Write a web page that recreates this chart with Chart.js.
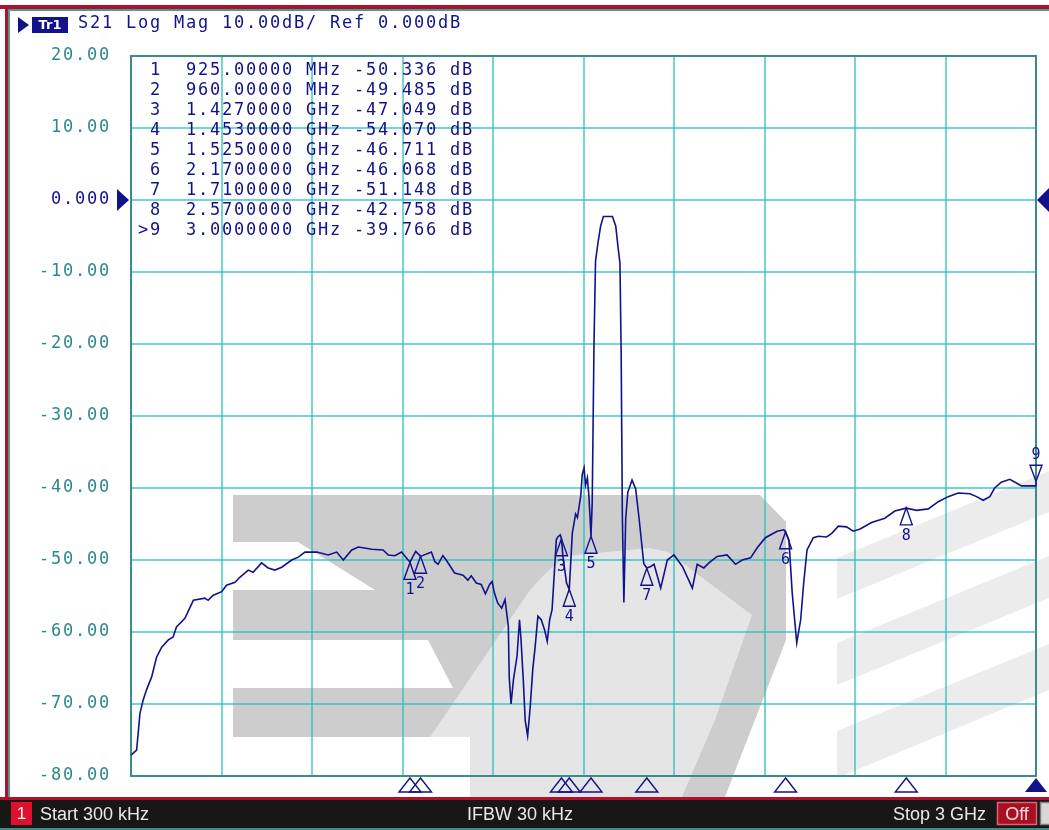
<!DOCTYPE html>
<html>
<head>
<meta charset="utf-8">
<script src="https://cdn.jsdelivr.net/npm/chart.js@4.4.1/dist/chart.umd.min.js"></script>
<style>
  html, body { margin: 0; padding: 0; background: #fff; overflow: hidden; }
  #wrap { position: relative; width: 1049px; height: 830px; }
</style>
</head>
<body>
<div id="wrap"><canvas id="vna" width="1049" height="830"></canvas></div>
<script>
// S21 trace (frequency in MHz, level in dB)
const freqMHz = [
  0.3, 19, 30, 41, 52, 69, 85, 102, 124, 140, 151, 179, 207, 245, 256, 273,
  301, 317, 345, 361, 389, 405, 433, 455, 477, 500, 533, 555, 577, 616, 654, 682,
  704, 732, 754, 798, 836, 853, 875, 897, 925, 944, 960, 996, 1007, 1018, 1034, 1045,
  1073, 1101, 1117, 1128, 1145, 1161, 1175, 1189, 1197, 1205, 1216, 1229, 1240, 1251,
  1254, 1260, 1268, 1280, 1288, 1293, 1301, 1307, 1315, 1323, 1332, 1340, 1349, 1360,
  1371, 1380, 1388, 1396, 1404, 1410, 1415, 1423, 1427, 1432, 1444, 1453, 1463, 1474,
  1480, 1491, 1496, 1502, 1507, 1513, 1518, 1525, 1529, 1535, 1540, 1548, 1557, 1566,
  1596, 1607, 1614, 1621, 1625, 1629, 1634, 1640, 1647, 1661, 1673, 1684, 1700, 1710,
  1723, 1734, 1756, 1778, 1800, 1828, 1861, 1877, 1899, 1916, 1943, 1976, 2004, 2026,
  2054, 2076, 2103, 2142, 2164, 2170, 2181, 2192, 2207, 2220, 2230, 2241, 2262, 2279,
  2306, 2323, 2345, 2372, 2394, 2417, 2455, 2499, 2532, 2570, 2604, 2643, 2676, 2709,
  2742, 2781, 2803, 2825, 2847, 2863, 2885, 2913, 2935, 2952, 2996, 3000
];
const s21dB = [
  -77.1, -76.4, -71.3, -69.4, -68.0, -66.2, -63.5, -62.1, -61.1, -60.7, -59.3, -58.1, -55.6, -55.3, -55.6, -54.9,
  -54.4, -53.5, -53.1, -52.4, -51.4, -51.7, -50.4, -51.1, -51.4, -51.0, -50.0, -49.6, -48.9, -48.9, -49.3, -48.9,
  -50.0, -48.6, -48.2, -48.5, -48.6, -49.3, -49.4, -48.9, -50.3, -48.8, -49.5, -48.9, -50.2, -50.6, -49.4, -50.0,
  -51.8, -52.1, -52.8, -52.2, -53.2, -53.4, -54.7, -53.4, -53.0, -54.6, -56.0, -56.7, -55.5, -59.2,
  -66.3, -70.0, -66.6, -63.3, -58.3, -61.0, -67.0, -72.3, -74.4, -70.7, -65.2, -62.0, -57.8, -58.3,
  -59.7, -61.3, -58.3, -56.9, -51.4, -47.2, -46.8, -46.5, -47.0, -49.5, -53.2, -54.1, -46.3, -43.6,
  -44.1, -41.1, -38.1, -37.2, -39.6, -38.6, -41.1, -46.7, -42.1, -19.9, -8.5, -6.0, -3.6, -2.3,
  -2.3, -3.6, -6.3, -8.8, -21.4, -44.1, -55.9, -44.3, -40.6, -38.9, -40.1, -44.1, -50.5, -51.1,
  -50.9, -50.6, -53.9, -50.0, -49.3, -50.9, -53.9, -50.6, -51.1, -50.4, -49.5, -49.3, -50.6, -50.0,
  -49.7, -48.3, -46.9, -46.0, -45.8, -46.1, -47.2, -54.6, -61.5, -58.3, -53.2, -48.6, -46.9, -46.7,
  -46.8, -46.3, -45.3, -45.4, -46.0, -45.7, -44.8, -44.2, -43.2, -42.8, -43.1, -42.9, -41.9, -41.2,
  -40.7, -40.8, -41.2, -41.7, -41.2, -40.0, -39.2, -38.8, -39.3, -39.7, -39.7, -39.8
];

// markers as listed in the on-screen table
const markerIds = ['1', '2', '3', '4', '5', '6', '7', '8', '9'];
const markerMHz = [925, 960, 1427, 1453, 1525, 2170, 1710, 2570, 3000];
const markerDB = [-50.336, -49.485, -47.049, -54.070, -46.711, -46.068, -51.148, -42.758, -39.766];
const activeMarker = 8;

const headerText = 'S21 Log Mag 10.00dB/ Ref 0.000dB';
const traceName = 'Tr1';
const startText = 'Start 300 kHz';
const ifbwText = 'IFBW 30 kHz';
const stopText = 'Stop 3 GHz';

const NAVY = '#12128c';
const TEAL = '#2b8a84';
const MONO = '17px "DejaVu Sans Mono", monospace';
const PITCH = 12;

function drawMono(ctx, text, x0, y, pitch) {
  ctx.textAlign = 'center';
  ctx.textBaseline = 'middle';
  for (let i = 0; i < text.length; i++) {
    if (text[i] !== ' ') ctx.fillText(text[i], x0 + i * pitch + pitch / 2, y);
  }
}

function poly(ctx, pts, color) {
  ctx.beginPath();
  ctx.moveTo(pts[0][0], pts[0][1]);
  for (let i = 1; i < pts.length; i++) ctx.lineTo(pts[i][0], pts[i][1]);
  ctx.closePath();
  ctx.fillStyle = color;
  ctx.fill();
}

function fmtFreq(f) {
  return f < 1000 ? f.toFixed(5) + ' MHz' : (f / 1000).toFixed(7) + ' GHz';
}

// background + faded logo watermark behind the grid
const backdrop = {
  id: 'backdrop',
  beforeDraw(chart) {
    const ctx = chart.ctx;
    ctx.save();
    ctx.fillStyle = '#fff';
    ctx.fillRect(0, 0, chart.width, chart.height);

    poly(ctx, [[233, 495], [760, 495], [786, 522], [786, 640], [725, 797], [470, 797], [470, 737], [233, 737]], '#cdcdcd');
    poly(ctx, [[233, 542], [298, 542], [375, 590], [233, 590]], '#fff');
    poly(ctx, [[233, 640], [428, 640], [453, 688], [233, 688]], '#fff');
    poly(ctx, [[430, 737], [530, 590], [545, 574], [565, 556], [650, 548], [668, 552], [752, 615], [715, 720], [682, 797], [470, 797], [470, 737]], '#e5e5e5');

    poly(ctx, [[837, 558], [1049, 471], [1049, 512], [837, 599]], '#ececec');
    poly(ctx, [[837, 643], [1049, 556], [1049, 598], [837, 685]], '#ececec');
    poly(ctx, [[837, 731], [1049, 644], [1049, 690], [837, 778]], '#ececec');
    ctx.restore();
  },
  beforeDatasetsDraw(chart) {
    const { ctx, chartArea: a } = chart;
    ctx.save();
    ctx.strokeStyle = '#3c8c8a';
    ctx.lineWidth = 2;
    ctx.strokeRect(a.left, a.top, a.right - a.left, a.bottom - a.top);
    ctx.restore();
  }
};

const markers = {
  id: 'markers',
  afterDatasetsDraw(chart) {
    const { ctx, chartArea: a } = chart;
    const xs = chart.scales.x, ys = chart.scales.y;
    ctx.save();
    ctx.strokeStyle = NAVY;
    ctx.fillStyle = NAVY;
    ctx.lineWidth = 1.4;
    ctx.font = '15px "DejaVu Sans Mono", monospace';
    ctx.textAlign = 'center';
    ctx.textBaseline = 'middle';
    markerIds.forEach((id, i) => {
      const x = xs.getPixelForValue(markerMHz[i]);
      const y = ys.getPixelForValue(markerDB[i]);
      ctx.beginPath();
      if (i === activeMarker) {
        ctx.moveTo(x, y - 5);
        ctx.lineTo(x - 6, y - 21);
        ctx.lineTo(x + 6, y - 21);
        ctx.closePath();
        ctx.moveTo(x, y - 5);
        ctx.lineTo(x, y);
        ctx.stroke();
        ctx.fillText(id, x, y - 31);
      } else {
        ctx.moveTo(x, y);
        ctx.lineTo(x - 6, y + 17);
        ctx.lineTo(x + 6, y + 17);
        ctx.closePath();
        ctx.stroke();
        ctx.fillText(id, x, y + 28);
      }
      // stimulus indicators under the graticule
      ctx.beginPath();
      ctx.moveTo(x, a.bottom + 2);
      ctx.lineTo(x - 11, a.bottom + 16);
      ctx.lineTo(x + 11, a.bottom + 16);
      ctx.closePath();
      if (i === activeMarker) ctx.fill(); else ctx.stroke();
    });
    ctx.restore();
  }
};

const screen = {
  id: 'screen',
  afterDraw(chart) {
    const { ctx } = chart;
    const ys = chart.scales.y;
    ctx.save();

    // window frame
    ctx.fillStyle = '#b0102a';
    ctx.fillRect(0, 5, chart.width, 4);
    ctx.fillRect(5, 5, 3, 792);
    ctx.fillStyle = '#4a9a96';
    ctx.fillRect(8, 9, chart.width, 2);
    ctx.fillRect(8, 9, 2, 788);

    // header
    ctx.fillStyle = NAVY;
    ctx.beginPath();
    ctx.moveTo(18, 17); ctx.lineTo(29, 25); ctx.lineTo(18, 33); ctx.closePath();
    ctx.fill();
    ctx.fillRect(32, 17, 36, 16);
    ctx.fillStyle = '#fff';
    ctx.font = 'bold 13px "DejaVu Sans", sans-serif';
    ctx.textAlign = 'center';
    ctx.textBaseline = 'middle';
    ctx.fillText(traceName, 50, 25.5);
    ctx.fillStyle = NAVY;
    ctx.font = MONO;
    drawMono(ctx, headerText, 77, 24, PITCH);

    // value axis labels
    ys.ticks.forEach(t => {
      const label = t.value === 0 ? '0.000' : t.value.toFixed(2);
      ctx.fillStyle = t.value === 0 ? NAVY : TEAL;
      drawMono(ctx, label, 110 - label.length * PITCH, ys.getPixelForValue(t.value), PITCH);
    });
    const yRef = ys.getPixelForValue(0);
    ctx.fillStyle = NAVY;
    ctx.beginPath();
    ctx.moveTo(117, yRef - 11); ctx.lineTo(129, yRef); ctx.lineTo(117, yRef + 11); ctx.closePath();
    ctx.fill();
    ctx.beginPath();
    ctx.moveTo(1049, yRef - 12); ctx.lineTo(1037, yRef); ctx.lineTo(1049, yRef + 12); ctx.closePath();
    ctx.fill();

    // marker table
    markerIds.forEach((id, i) => {
      const line = (i === activeMarker ? '>' : ' ') + id + '  ' + fmtFreq(markerMHz[i]) + ' ' +
        markerDB[i].toFixed(3) + ' dB';
      drawMono(ctx, line, 137, 71 + i * 19.9, PITCH);
    });

    // status bar
    ctx.fillStyle = '#b0102a';
    ctx.fillRect(0, 797, chart.width, 3);
    ctx.fillStyle = '#171717';
    ctx.fillRect(0, 800, chart.width, 28);
    ctx.fillStyle = '#3c8c8a';
    ctx.fillRect(0, 828, chart.width, 2);
    ctx.fillStyle = '#e0102c';
    ctx.fillRect(11, 802, 21, 23);
    ctx.fillStyle = '#fff';
    ctx.font = '17px "Liberation Sans", Arial, sans-serif';
    ctx.textAlign = 'center';
    ctx.textBaseline = 'middle';
    ctx.fillText('1', 21.5, 814);
    ctx.fillStyle = '#e8e8e8';
    ctx.font = '18px "Liberation Sans", Arial, sans-serif';
    ctx.textAlign = 'left';
    ctx.fillText(startText, 40, 815);
    ctx.textAlign = 'center';
    ctx.fillText(ifbwText, 520, 815);
    ctx.textAlign = 'right';
    ctx.fillText(stopText, 986, 815);
    ctx.fillStyle = '#a80f22';
    ctx.fillRect(997, 802, 40, 23);
    ctx.strokeStyle = '#e06070';
    ctx.lineWidth = 1.5;
    ctx.strokeRect(997.5, 802.5, 39, 22);
    ctx.fillStyle = '#f2d8d8';
    ctx.textAlign = 'center';
    ctx.fillText('Off', 1017, 815);
    ctx.fillStyle = '#d8d8d8';
    ctx.fillRect(1040, 802, 12, 23);
    ctx.strokeStyle = '#808080';
    ctx.strokeRect(1040.5, 802.5, 12, 22);
    ctx.restore();
  }
};

const gridColor = 'rgba(40,190,190,0.65)';

new Chart(document.getElementById('vna').getContext('2d'), {
  type: 'line',
  data: {
    datasets: [{
      label: 'S21',
      data: freqMHz.map((f, i) => ({ x: f, y: s21dB[i] })),
      borderColor: NAVY,
      borderWidth: 1.6,
      pointRadius: 0,
      tension: 0,
      fill: false
    }]
  },
  options: {
    responsive: false,
    animation: false,
    events: [],
    layout: { padding: { left: 131, top: 56, right: 13, bottom: 54 } },
    plugins: { legend: { display: false }, tooltip: { enabled: false } },
    scales: {
      x: {
        type: 'linear',
        min: 0.3,
        max: 3000,
        afterBuildTicks: scale => {
          scale.ticks = Array.from({ length: 11 }, (_, i) => ({ value: scale.min + i * (scale.max - scale.min) / 10 }));
        },
        grid: { color: gridColor, lineWidth: 2, drawTicks: false },
        border: { display: false },
        ticks: { display: false }
      },
      y: {
        min: -80,
        max: 20,
        ticks: { display: false, stepSize: 10 },
        grid: { color: gridColor, lineWidth: 2, drawTicks: false },
        border: { display: false }
      }
    }
  },
  plugins: [backdrop, markers, screen]
});
</script>
</body>
</html>
